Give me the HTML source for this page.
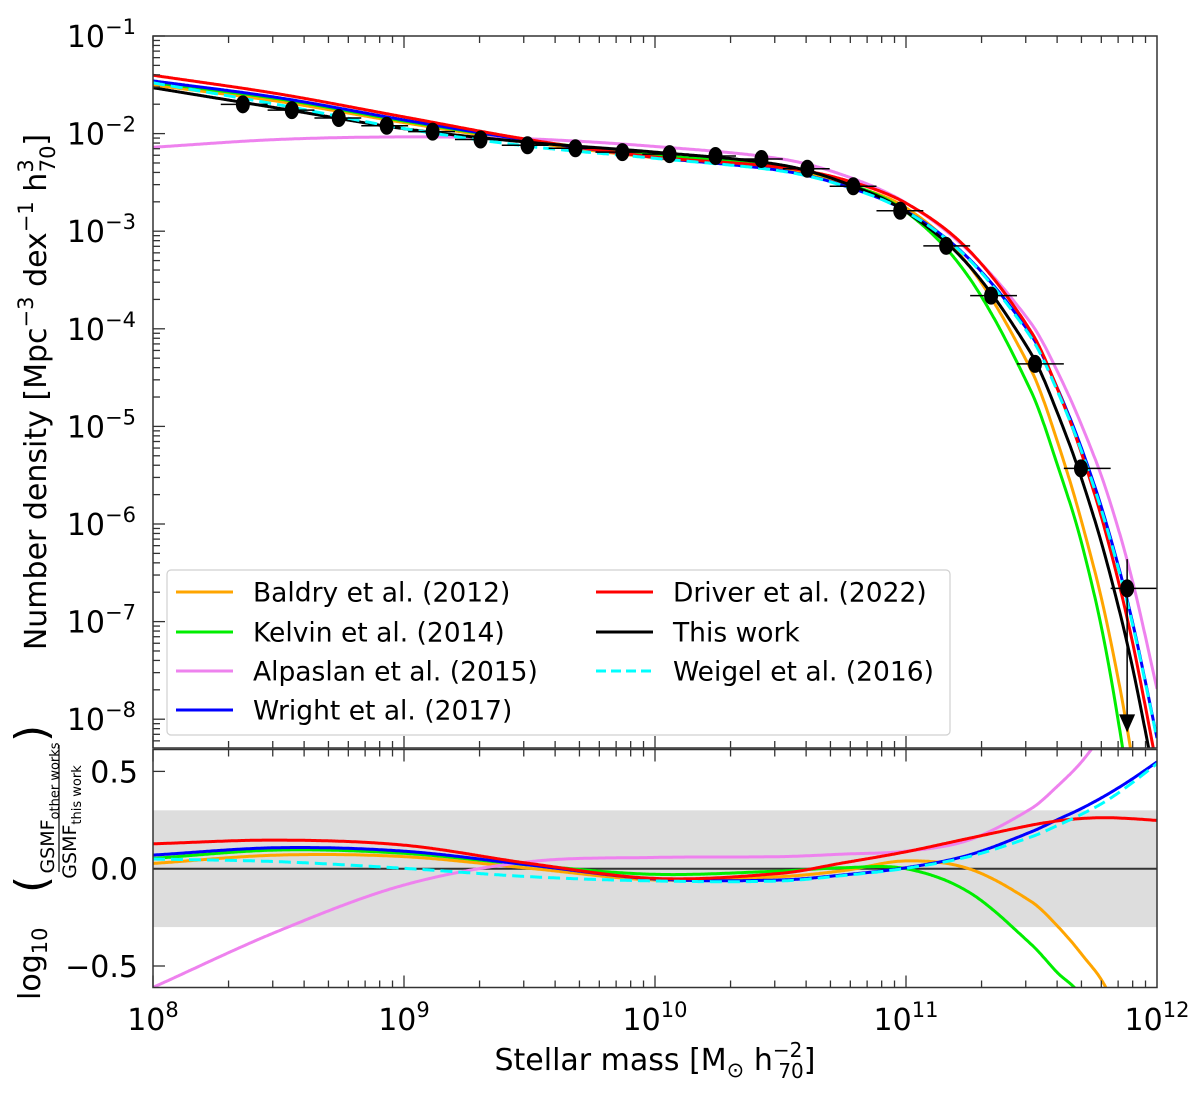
<!DOCTYPE html>
<html><head><meta charset="utf-8">
<style>
html,body{margin:0;padding:0;background:#fff;overflow:hidden;width:1200px;height:1100px;}
svg{display:block;font-family:"DejaVu Sans","Liberation Sans",sans-serif;}
</style></head>
<body>
<svg id="chart" width="1200" height="1100" viewBox="0 0 1200 1100" xmlns="http://www.w3.org/2000/svg">
<defs>
<clipPath id="clipTop"><rect x="153" y="36" width="1004" height="712"/></clipPath>
<clipPath id="clipBot"><rect x="153" y="749.5" width="1004" height="238"/></clipPath>
</defs>
<g id="bg"></g>
<g id="curvesTop" clip-path="url(#clipTop)"></g>
<g id="pointsTop"></g>
<g id="curvesBot" clip-path="url(#clipBot)"></g>
<g id="axes"></g>
<g id="legend"></g>
<g id="labels"></g>
<text x="655" y="1070" font-size="30" text-anchor="middle" font-family="DejaVu Sans, Liberation Sans, sans-serif">Stellar mass [M<tspan font-size="21" dy="7">⊙</tspan><tspan dy="-7"> h</tspan><tspan font-size="20" dy="-13">−2</tspan><tspan font-size="20" dx="-24" dy="21">70</tspan><tspan dy="-8">]</tspan></text>
<text transform="translate(46,392) rotate(-90)" font-size="30" text-anchor="middle" font-family="DejaVu Sans, Liberation Sans, sans-serif">Number density [Mpc<tspan font-size="21" dy="-13">−3</tspan><tspan dy="13"> dex</tspan><tspan font-size="21" dy="-13">−1</tspan><tspan dy="13"> h</tspan><tspan font-size="21" dy="-13">3</tspan><tspan font-size="21" dx="-13" dy="22">70</tspan><tspan dy="-9">]</tspan></text>
<g transform="rotate(-90)" font-family="DejaVu Sans, Liberation Sans, sans-serif">
<text x="-1000" y="40" font-size="30">log<tspan font-size="21" dy="7">10</tspan></text>
<text x="-893" y="46" font-size="44">(</text>
<text x="-808" y="54" font-size="19" text-anchor="middle">GSMF<tspan font-size="13" dy="5">other works</tspan></text>
<line x1="-872" x2="-745" y1="59" y2="59" stroke="#000" stroke-width="1.2"/>
<text x="-822" y="76" font-size="19" text-anchor="middle">GSMF<tspan font-size="13" dy="5">this work</tspan></text>
<text x="-742" y="46" font-size="44">)</text>
</g>
</svg>
<script>
// ---- data ----
const massGrid = [8, 8.5, 9, 9.5, 10, 10.5, 10.75, 11, 11.25, 11.5, 11.6, 11.7, 11.8, 11.9, 12];
const thisWork = [-1.53, -1.74, -1.95, -2.09, -2.19, -2.32, -2.50, -2.80, -3.35, -4.26, -4.84, -5.54, -6.39, -7.44, -8.74];
const ratioBaldry   = [0.027, 0.07, 0.062, 0.002, -0.058, -0.041, -0.01, 0.04, 0.0, -0.17, -0.29, -0.44, -0.62, -0.95, -1.5];
const ratioKelvin   = [0.053, 0.096, 0.079, 0.019, -0.029, -0.012, 0.005, 0.0, -0.12, -0.39, -0.53, -0.66, -0.95, -1.5, -2.2];
const ratioAlpaslan = [-0.61, -0.32, -0.084, 0.036, 0.058, 0.062, 0.075, 0.09, 0.147, 0.31, 0.42, 0.55, 0.72, 0.88, 1.05];
const ratioWright   = [0.07, 0.108, 0.09, 0.019, -0.053, -0.058, -0.032, 0.005, 0.07, 0.19, 0.25, 0.31, 0.38, 0.46, 0.549];
const ratioDriver   = [0.128, 0.147, 0.121, 0.027, -0.05, -0.024, 0.03, 0.087, 0.156, 0.224, 0.245, 0.258, 0.262, 0.257, 0.248];
const ratioWeigel   = [0.05, 0.036, 0.002, -0.041, -0.063, -0.063, -0.035, 0.002, 0.062, 0.164, 0.22, 0.28, 0.35, 0.44, 0.54];
const pointMass = [8.358, 8.553, 8.740, 8.931, 9.114, 9.305, 9.492, 9.683, 9.870, 10.058, 10.241, 10.424, 10.607, 10.790, 10.977, 11.160, 11.339, 11.514, 11.697, 11.881];
const pointPhi  = [-1.70, -1.76, -1.84, -1.92, -1.98, -2.06, -2.12, -2.15, -2.19, -2.21, -2.23, -2.26, -2.36, -2.54, -2.79, -3.15, -3.66, -4.36, -5.43, -6.66];
const binStart = 8.27;
const binWidth = 0.1866;
const xTickExp = [8, 9, 10, 11, 12];
const yTickExp = [-1, -2, -3, -4, -5, -6, -7, -8];
const ratioTicks = [0.5, 0.0, -0.5];
const ratioTickLabels = ["0.5", "0.0", "\u22120.5"];

// ---- scales ----
const X = m => 153 + (m - 8) * 251;
const YT = l => 36 + (-1 - l) * 97.6;
const YB = r => 868.7 - r * 194.6;
const NS = "http://www.w3.org/2000/svg";
function mk(tag, attrs, parent){const e=document.createElementNS(NS,tag);for(const k in attrs)e.setAttribute(k,attrs[k]);parent.appendChild(e);return e;}
function interp(xs, ys, x){
  let i=0; while(i<xs.length-2 && x>xs[i+1]) i++;
  const n=xs.length;
  const slope=j=>{ if(j===0) return (ys[1]-ys[0])/(xs[1]-xs[0]); if(j===n-1) return (ys[n-1]-ys[n-2])/(xs[n-1]-xs[n-2]); return (ys[j+1]-ys[j-1])/(xs[j+1]-xs[j-1]); };
  const h=xs[i+1]-xs[i], t=(x-xs[i])/h, t2=t*t, t3=t2*t;
  return (2*t3-3*t2+1)*ys[i]+(t3-2*t2+t)*h*slope(i)+(-2*t3+3*t2)*ys[i+1]+(t3-t2)*h*slope(i+1);
}
const bg=document.getElementById('bg');
const ct=document.getElementById('curvesTop');
const cb=document.getElementById('curvesBot');
const pt=document.getElementById('pointsTop');
const ax=document.getElementById('axes');
const lg=document.getElementById('legend');
const lb=document.getElementById('labels');

const band=mk('rect',{x:153,y:YB(0.3),width:1004,height:YB(-0.3)-YB(0.3),fill:'#dddddd'},bg);


const zl=mk('line',{x1:153,x2:1157,y1:YB(0),y2:YB(0),stroke:'#333',"stroke-width":2},bg);



const series=[
 {name:'Baldry et al. (2012)',r:ratioBaldry,c:'#ffa500',key:'baldry'},
 {name:'Kelvin et al. (2014)',r:ratioKelvin,c:'#00ee00',key:'kelvin'},
 {name:'Alpaslan et al. (2015)',r:ratioAlpaslan,c:'#ee82ee',key:'alpaslan'},
 {name:'Wright et al. (2017)',r:ratioWright,c:'#0000ff',key:'wright'},
 {name:'Driver et al. (2022)',r:ratioDriver,c:'#ff0000',key:'driver'},
 {name:'This work',r:null,c:'#000000',key:'this-work'},
 {name:'Weigel et al. (2016)',r:ratioWeigel,c:'#00ffff',key:'weigel',dash:'12,6'}
];
function pathFor(fn, Y){
  let d=''; for(let m=8; m<=12.0001; m+=0.004){ d+=(d?'L':'M')+X(m).toFixed(1)+','+Y(fn(m)).toFixed(1); } return d;
}
series.forEach(s=>{
  const topFn = s.r ? (m=>interp(massGrid,thisWork,m)+interp(massGrid,s.r,m)) : (m=>interp(massGrid,thisWork,m));
  const p=mk('path',{d:pathFor(topFn,YT),fill:'none',stroke:s.c,"stroke-width":3},ct);
  if(s.dash) p.setAttribute('stroke-dasharray',s.dash);
  
  
  if(s.r){
    const q=mk('path',{d:pathFor(m=>interp(massGrid,s.r,m),YB),fill:'none',stroke:s.c,"stroke-width":3},cb);
    if(s.dash) q.setAttribute('stroke-dasharray',s.dash);
    
    
  }
});

pointMass.forEach((m,i)=>{
  const k=Math.round((m-binStart)/binWidth - 0.5);
  const lo=binStart+k*binWidth, hi=lo+binWidth;
  const eb=mk('line',{x1:X(lo),x2:X(hi),y1:YT(pointPhi[i]),y2:YT(pointPhi[i]),stroke:'#000',"stroke-width":1.5},pt);
  
  
  if(i===pointMass.length-1){
    const v=mk('line',{x1:X(m),x2:X(m),y1:YT(pointPhi[i]+0.3),y2:YT(-8.0),stroke:'#000',"stroke-width":1.5},pt);
    
    
    const cx=X(m), y0=YT(-7.95);
    const a=mk('polygon',{points:`${cx-8},${y0} ${cx+8},${y0} ${cx},${y0+18}`,fill:'#000'},pt);
    
    
  }
  const d=mk('ellipse',{cx:X(m),cy:YT(pointPhi[i]),rx:7,ry:9,fill:'#000'},pt);
  
  
});

const f1=mk('rect',{x:153,y:36,width:1004,height:712,fill:'none',stroke:'#333',"stroke-width":1.5},ax);


const f2=mk('rect',{x:153,y:749.5,width:1004,height:238,fill:'none',stroke:'#333',"stroke-width":1.5},ax);



for(let e=8;e<12;e++){
  for(let j=1;j<=9;j++){
    const m=e+Math.log10(j); const x=X(m); const L=(j===1)?12:7;
    [[36,1],[748,-1],[749.5,1],[987.5,-1]].forEach(([y,dir])=>{
      const t=mk('line',{x1:x,x2:x,y1:y,y2:y+dir*L,stroke:'#333',"stroke-width":1.3},ax);
      
      
    });
  }
}
xTickExp.forEach(e=>{
  const t=mk('text',{x:X(e),y:1030,"font-size":30,"text-anchor":"middle",fill:'#000'},lb);
  
  
  t.innerHTML=`10<tspan dy="-13" font-size="21">${e}</tspan>`;
});
for(let e=-9;e<-1;e++){
  for(let j=1;j<=9;j++){
    const l=e+Math.log10(j); const y=YT(l); if(y<36||y>748) continue;
    const L=(j===1)?12:7;
    const t=mk('line',{x1:153,x2:153+L,y1:y,y2:y,stroke:'#333',"stroke-width":1.3},ax);
    
    
  }
}
mk('line',{x1:153,x2:165,y1:36,y2:36,stroke:'#333',"stroke-width":1.3},ax);
yTickExp.forEach(e=>{
  const t=mk('text',{x:136,y:YT(e)+11,"font-size":30,"text-anchor":"end",fill:'#000'},lb);
  
  
  t.innerHTML=`10<tspan dy="-13" font-size="21">\u2212${-e}</tspan>`;
});
ratioTicks.forEach((r,i)=>{
  const t=mk('line',{x1:153,x2:165,y1:YB(r),y2:YB(r),stroke:'#333',"stroke-width":1.3},ax);
  
  
  const tl=mk('text',{x:138,y:YB(r)+11,"font-size":30,"text-anchor":"end",fill:'#000'},lb);
  
  
  tl.textContent=ratioTickLabels[i];
});

const lbox=mk('rect',{x:167,y:570,width:783,height:165,rx:4,fill:'#fff',"fill-opacity":0.85,stroke:'#d0d0d0',"stroke-width":1.2},lg);


const rowY=[592,632,671,710];
series.forEach((s,idx)=>{
  const col=idx<4?0:1, row=idx<4?idx:idx-4;
  const x0=col?596:176, y=rowY[row];
  const g=mk('g',{},lg);
  
  
  const l=mk('line',{x1:x0,x2:x0+57,y1:y,y2:y,stroke:s.c,"stroke-width":3},g);
  if(s.dash) l.setAttribute('stroke-dasharray','10,5');
  const t=mk('text',{x:x0+77,y:y+9.5,"font-size":26.5,fill:'#000'},g);
  t.textContent=s.name;
});
</script>
</body></html>
